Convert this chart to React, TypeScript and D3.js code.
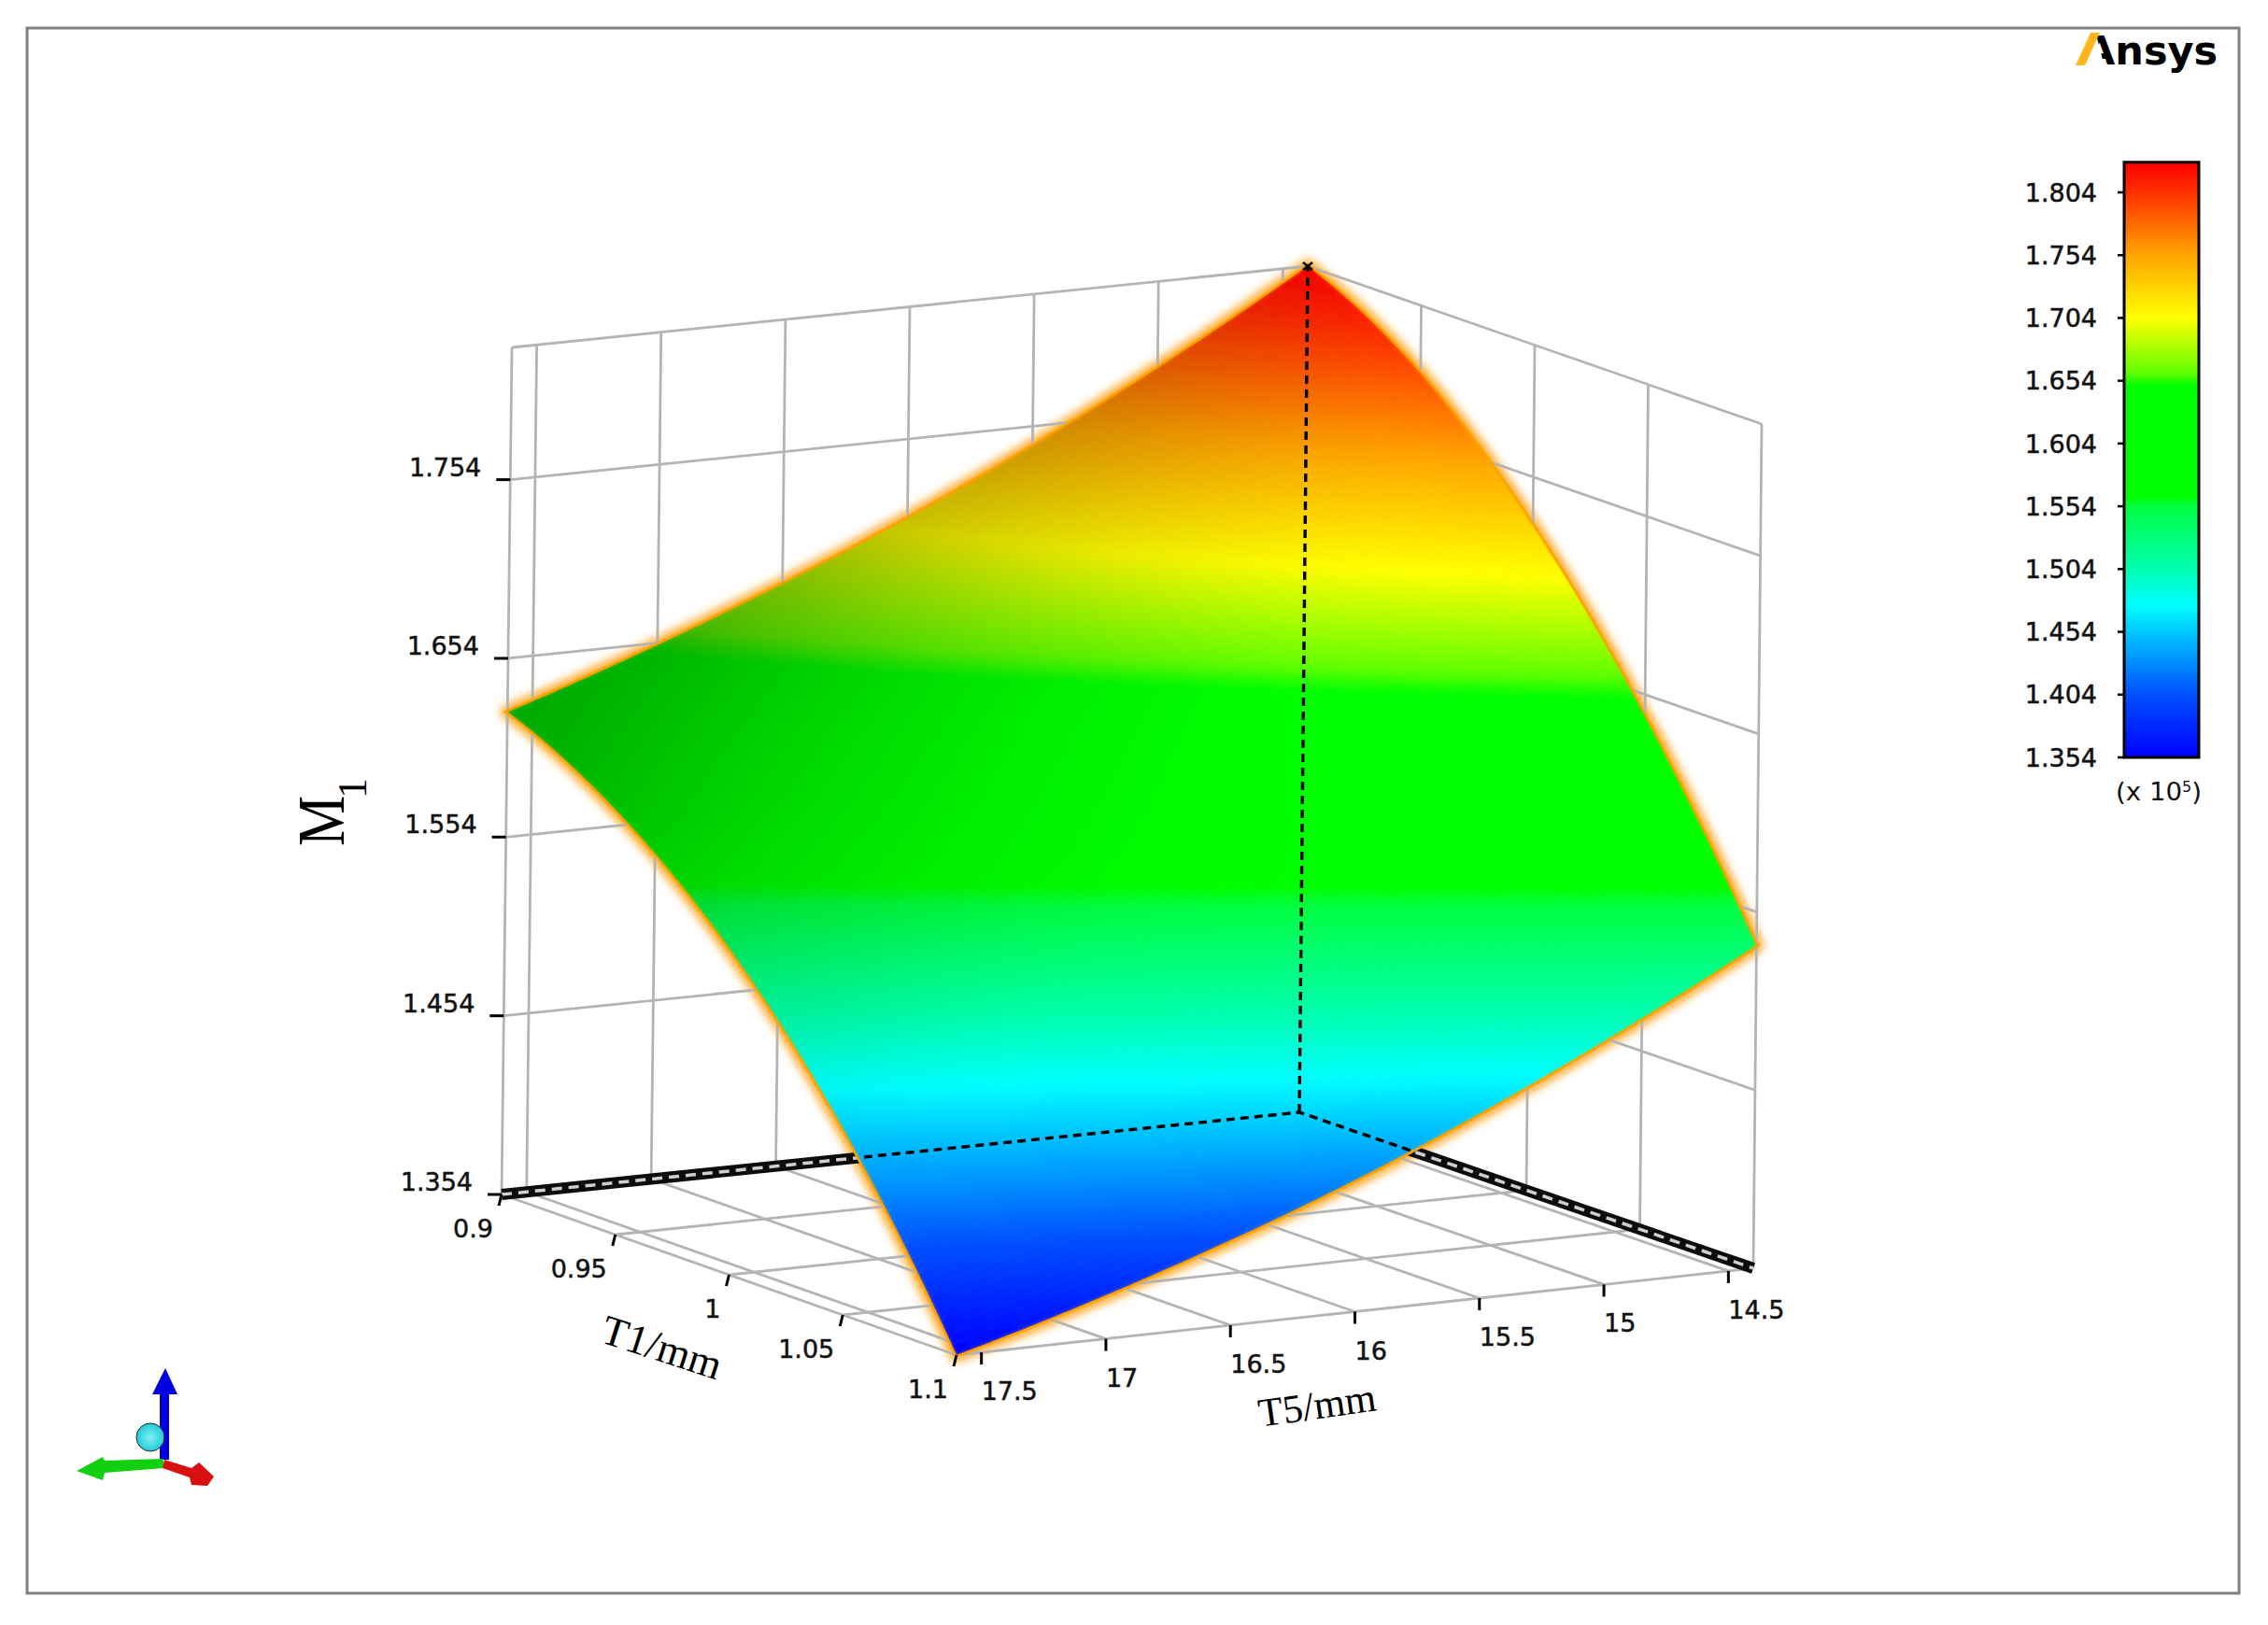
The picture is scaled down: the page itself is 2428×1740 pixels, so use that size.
import React, { useEffect, useRef } from 'react';
import * as d3 from 'd3';

const WIDTH = 2428;
const HEIGHT = 1740;

// axis values
const T1_TICKS = [0.9, 0.95, 1, 1.05, 1.1];
const T5_TICKS = [17.5, 17, 16.5, 16, 15.5, 15, 14.5];
const M_TICKS = [1.354, 1.454, 1.554, 1.654, 1.754];
const BAR_TICKS = [1.354, 1.404, 1.454, 1.504, 1.554, 1.604, 1.654, 1.704, 1.754, 1.804];

// box limits
const T1_RANGE = [0.9, 1.1];
const T5_RANGE = [17.6, 14.4];
const M_RANGE = [1.354, 1.828];

// response surface. rows: T1 0.9 -> 1.1, columns: T5 17.6 -> 14.4
const M_T1_09 = [1.624, 1.6635, 1.7096, 1.7645, 1.828];
const M_T1_095 = [1.589, 1.6276, 1.673, 1.7273, 1.79];
const M_T1_10 = [1.534, 1.5705, 1.6139, 1.666, 1.7267];
const M_T1_105 = [1.4565, 1.4911, 1.5327, 1.583, 1.642];
const M_T1_11 = [1.354, 1.3875, 1.428, 1.4775, 1.5352];
const M_SURFACE = [M_T1_09, M_T1_095, M_T1_10, M_T1_105, M_T1_11];

// lighting of the surface, same layout as M_SURFACE
const SHADE = [
  [0.66, 0.72, 0.78, 0.84, 0.95],
  [0.76, 0.84, 0.9, 0.95, 1],
  [0.9, 0.93, 0.97, 1, 1],
  [0.98, 1, 1, 1, 1],
  [1, 1, 1, 1, 1],
];

// colour map of the legend
const COLOR_VALUES = [1.354, 1.404, 1.454, 1.475, 1.504, 1.554, 1.562, 1.65, 1.66, 1.704, 1.754, 1.804, 1.828];
const COLOR_HEX = ['#0000ff', '#0050ff', '#00c8ff', '#00ffff', '#00ffb0', '#00ff40', '#00ff00', '#00ff00', '#60ff00', '#ffff00', '#ffa500', '#ff3000', '#ff0000'];

// screen position of the box corners [x, y]
const FLOOR = { left: [537, 1279], back: [1391, 1191], right: [1877, 1358], front: [1024, 1451] };
const ROOF = { left: [548, 372], back: [1400, 285], right: [1886, 454], front: [1033, 545] };

const uScale = d3.scaleLinear().domain(T1_RANGE).range([0, 1]);
const vScale = d3.scaleLinear().domain(T5_RANGE).range([0, 1]);
const wScale = d3.scaleLinear().domain(M_RANGE).range([0, 1]);
const colorScale = d3.scaleLinear<string>().domain(COLOR_VALUES).range(COLOR_HEX).clamp(true);

const bilinear = (c: typeof FLOOR, u: number, v: number) =>
  [0, 1].map(
    (i) =>
      (1 - u) * (1 - v) * c.left[i] + (1 - u) * v * c.back[i] + u * (1 - v) * c.front[i] + u * v * c.right[i]
  );

// (T1, T5, M) to screen
const project = (t1: number, t5: number, m: number): [number, number] => {
  const u = uScale(t1);
  const v = vScale(t5);
  const w = wScale(m);
  const a = bilinear(FLOOR, u, v);
  const b = bilinear(ROOF, u, v);
  return [a[0] + (b[0] - a[0]) * w, a[1] + (b[1] - a[1]) * w];
};

// Catmull-Rom through evenly spaced nodes, ends extended so the curve keeps its slope
const spline = (vals: number[], t: number) => {
  const n = vals.length;
  const pos = Math.min(Math.max(t, 0), 1) * (n - 1);
  const i = Math.min(Math.floor(pos), n - 2);
  const f = pos - i;
  const p1 = vals[i];
  const p2 = vals[i + 1];
  const p0 = i > 0 ? vals[i - 1] : 3 * vals[0] - 3 * vals[1] + vals[2];
  const p3 = i + 2 < n ? vals[i + 2] : 3 * vals[n - 1] - 3 * vals[n - 2] + vals[n - 3];
  return 0.5 * (2 * p1 + (p2 - p0) * f + (2 * p0 - 5 * p1 + 4 * p2 - p3) * f * f + (3 * p1 - p0 - 3 * p2 + p3) * f * f * f);
};

const surfaceAt = (table: number[][], u: number, v: number) => spline(table.map((r) => spline(r, v)), u);

const App: React.FC = () => {
  const svgRef = useRef<SVGSVGElement>(null);

  useEffect(() => {
    if (!svgRef.current) return;
    const svg = d3.select(svgRef.current);
    svg.selectAll('*').remove();

    const line = d3.line<[number, number]>();
    const tickFont = '"DejaVu Sans", sans-serif';
    const defs = svg.append('defs');

    // frame
    svg.append('rect').attr('width', WIDTH).attr('height', HEIGHT).attr('fill', '#fff');
    svg.append('rect').attr('x', 29).attr('y', 30).attr('width', 2368).attr('height', 1676)
      .attr('fill', 'none').attr('stroke', '#808080').attr('stroke-width', 3);

    const [t1a, t1b] = T1_RANGE;
    const [t5a, t5b] = T5_RANGE;
    const [m0, m1] = M_RANGE;

    // surface outline
    const steps = 120;
    const idx = d3.range(steps + 1).map((i) => i / steps);
    const tAt = d3.scaleLinear().domain([0, 1]);
    const surfPoint = (u: number, v: number) =>
      project(
        tAt.range(T1_RANGE)(u),
        tAt.range(T5_RANGE)(v),
        surfaceAt(M_SURFACE, u, v)
      );
    const outline: [number, number][] = [
      ...idx.map((v) => surfPoint(0, v)),
      ...idx.map((u) => surfPoint(u, 1)),
      ...idx.map((v) => surfPoint(1, 1 - v)),
      ...idx.map((u) => surfPoint(1 - u, 0)),
    ];
    const outlinePath = line(outline) + 'Z';

    const glow = defs.append('filter').attr('id', 'glow').attr('x', '-10%').attr('y', '-10%').attr('width', '120%').attr('height', '120%');
    glow.append('feGaussianBlur').attr('stdDeviation', 5);
    const soft = defs.append('filter').attr('id', 'soft').attr('x', '-2%').attr('y', '-2%').attr('width', '104%').attr('height', '104%');
    soft.append('feGaussianBlur').attr('stdDeviation', 2);
    defs.append('clipPath').attr('id', 'surface-clip').append('path').attr('d', outlinePath);

    svg.append('path').attr('d', outlinePath).attr('fill', 'none').attr('stroke', '#ffab2e')
      .attr('stroke-width', 15).attr('filter', 'url(#glow)').attr('stroke-linejoin', 'round');

    // walls and floor grid
    const grid = svg.append('g').attr('fill', 'none').attr('stroke', '#b4b4b4').attr('stroke-width', 2.8);
    const seg = (a: [number, number], b: [number, number]) => grid.append('path').attr('d', line([a, b]));

    [t5a, ...T5_TICKS, t5b].forEach((t5) => {
      seg(project(t1a, t5, m0), project(t1a, t5, m1));
      seg(project(t1a, t5, m0), project(t1b, t5, m0));
    });
    T1_TICKS.forEach((t1) => {
      seg(project(t1, t5b, m0), project(t1, t5b, m1));
      seg(project(t1, t5a, m0), project(t1, t5b, m0));
    });
    [...M_TICKS, m1].forEach((m) => {
      seg(project(t1a, t5a, m), project(t1a, t5b, m));
      seg(project(t1a, t5b, m), project(t1b, t5b, m));
    });

    // heavy floor edges behind the surface
    const backEdge: [number, number][] = [project(t1a, t5a, m0), project(t1a, t5b, m0), project(t1b, t5b, m0)];
    svg.append('path').attr('d', line(backEdge)).attr('fill', 'none').attr('stroke', '#0c0c0c').attr('stroke-width', 12);
    svg.append('path').attr('d', line(backEdge)).attr('fill', 'none').attr('stroke', '#cfcfcf')
      .attr('stroke-width', 3.5).attr('stroke-dasharray', '11 7');

    svg.append('path').attr('d', outlinePath).attr('fill', 'none').attr('stroke', '#ffa200').attr('stroke-width', 5);

    // surface mesh
    const cells: { d: string; fill: string }[] = [];
    for (let i = 0; i < steps; i++) {
      for (let j = 0; j < steps; j++) {
        const u0 = idx[i], u1 = idx[i + 1], v0 = idx[j], v1 = idx[j + 1];
        const um = (u0 + u1) / 2;
        const vm = (v0 + v1) / 2;
        const c = d3.rgb(colorScale(surfaceAt(M_SURFACE, um, vm)));
        const s = Math.min(surfaceAt(SHADE, um, vm), 1);
        const fill = d3.rgb(c.r * s, c.g * s, c.b * s).formatHex();
        cells.push({
          d: line([surfPoint(u0, v0), surfPoint(u0, v1), surfPoint(u1, v1), surfPoint(u1, v0)]) + 'Z',
          fill,
        });
      }
    }
    svg.append('g').attr('clip-path', 'url(#surface-clip)')
      .append('g').attr('filter', 'url(#soft)')
      .selectAll('path').data(cells).join('path')
      .attr('d', (d) => d.d).attr('fill', (d) => d.fill).attr('stroke', (d) => d.fill).attr('stroke-width', 2);

    // dashed box edges seen through the surface
    const dashed = svg.append('g').attr('clip-path', 'url(#surface-clip)').attr('fill', 'none')
      .attr('stroke', '#000').attr('stroke-width', 3.4).attr('stroke-dasharray', '9 6');
    dashed.append('path').attr('d', line(backEdge));
    dashed.append('path').attr('d', line([project(t1a, t5b, m0), project(t1a, t5b, m1)]));

    // ticks and labels
    const ticks = svg.append('g').attr('stroke', '#000').attr('stroke-width', 3);
    const labels = svg.append('g').attr('font-family', tickFont).attr('font-size', 27).attr('fill', '#111')
      .attr('stroke', '#111').attr('stroke-width', 0.5);

    M_TICKS.forEach((m) => {
      const [x, y] = project(t1a, t5a, m);
      ticks.append('line').attr('x1', x - 15).attr('x2', x).attr('y1', y).attr('y2', y);
      labels.append('text').attr('x', x - 31).attr('y', y - 4).attr('text-anchor', 'end').text(m.toFixed(3));
    });
    T1_TICKS.forEach((t1) => {
      const [x, y] = project(t1, t5a, m0);
      ticks.append('line').attr('x1', x).attr('y1', y).attr('x2', x - 3).attr('y2', y + 12);
      labels.append('text').attr('x', x - 9).attr('y', y + 46).attr('text-anchor', 'end').text(String(t1));
    });
    T5_TICKS.forEach((t5) => {
      const [x, y] = project(t1b, t5, m0);
      ticks.append('line').attr('x1', x).attr('y1', y).attr('x2', x).attr('y2', y + 13);
      labels.append('text').attr('x', x).attr('y', y + 51).text(String(t5));
    });
    // little cross where the box edges meet at the top
    const [topX, topY] = project(t1a, t5b, m1);
    ticks.append('path').attr('fill', 'none').attr('stroke-width', 2.5)
      .attr('d', `M${topX - 5},${topY - 4}L${topX + 5},${topY + 4}M${topX + 5},${topY - 4}L${topX - 5},${topY + 4}`);

    // axis titles
    const serif = '"Liberation Serif", serif';
    svg.append('text').attr('transform', 'translate(704,1457) rotate(18)').attr('text-anchor', 'middle')
      .attr('font-family', serif).attr('font-size', 45).attr('fill', '#000').text('T1/mm');
    svg.append('text').attr('transform', 'translate(1412,1519) rotate(-8)').attr('text-anchor', 'middle')
      .attr('font-family', serif).attr('font-size', 43).attr('fill', '#000').text('T5/mm');
    svg.append('text').attr('transform', 'translate(368,906) rotate(-90)')
      .attr('font-family', serif).attr('font-size', 71).attr('fill', '#000')
      .attr('textLength', 54).attr('lengthAdjust', 'spacingAndGlyphs').text('M');
    svg.append('text').attr('transform', 'translate(392,855) rotate(-90)')
      .attr('font-family', serif).attr('font-size', 44).attr('fill', '#000').text('1');

    // colour bar
    const barY = d3.scaleLinear().domain([1.354, 1.804]).range([811, 206]);
    const barTop = barY(M_RANGE[1]);
    const grad = defs.append('linearGradient').attr('id', 'bar-gradient').attr('x1', 0).attr('x2', 0).attr('y1', 1).attr('y2', 0);
    COLOR_VALUES.forEach((v, i) => {
      grad.append('stop').attr('offset', (v - M_RANGE[0]) / (M_RANGE[1] - M_RANGE[0])).attr('stop-color', COLOR_HEX[i]);
    });
    svg.append('rect').attr('x', 2274).attr('y', barTop).attr('width', 80).attr('height', barY(1.354) - barTop)
      .attr('fill', 'url(#bar-gradient)').attr('stroke', '#000').attr('stroke-width', 3);
    const barAxis = svg.append('g').attr('font-family', tickFont).attr('font-size', 27).attr('fill', '#111');
    BAR_TICKS.forEach((v) => {
      barAxis.append('line').attr('x1', 2267).attr('x2', 2274).attr('y1', barY(v)).attr('y2', barY(v)).attr('stroke', '#000').attr('stroke-width', 2.5);
      barAxis.append('text').attr('x', 2245).attr('y', barY(v)).attr('dy', '0.36em').attr('text-anchor', 'end')
        .attr('stroke', '#111').attr('stroke-width', 0.5).text(v.toFixed(3));
    });
    const exp = svg.append('text').attr('x', 2311).attr('y', 857).attr('text-anchor', 'middle')
      .attr('font-family', tickFont).attr('font-size', 26).attr('fill', '#111')
      .attr('textLength', 92).attr('lengthAdjust', 'spacingAndGlyphs');
    exp.append('tspan').text('(x 10');
    exp.append('tspan').attr('font-size', 15).attr('dy', -9).text('5');
    exp.append('tspan').attr('dy', 9).text(')');

    // logo
    const logo = svg.append('g');
    logo.append('text').attr('x', 2231).attr('y', 69).attr('font-family', tickFont).attr('font-weight', 'bold')
      .attr('font-size', 43).attr('fill', '#000').text('Ansys');
    logo.append('polygon').attr('points', '2224,72 2253,72 2247,48 2243,34 2230,34').attr('fill', '#fff');
    logo.append('polygon').attr('points', '2222,70 2232,70 2248,35 2238,35').attr('fill', '#ffb71b');

    // orientation triad
    const triad = svg.append('g');
    const sphere = defs.append('radialGradient').attr('id', 'sphere');
    sphere.append('stop').attr('offset', '0%').attr('stop-color', '#7ff0f4');
    sphere.append('stop').attr('offset', '100%').attr('stop-color', '#22ccd6');
    triad.append('path').attr('d', 'M171,1563 L171,1493 L163,1493 L177,1465 L190,1493 L181,1493 L181,1563 Z').attr('fill', '#0000e0');
    triad.append('path').attr('d', 'M175,1562 L112,1564 L110,1560 L82,1575 L110,1585 L112,1577 L175,1572 Z').attr('fill', '#10d010');
    triad.append('path').attr('d', 'M176,1563 L205,1572 L213,1566 L229,1581 L222,1591 L205,1590 L203,1582 L174,1572 Z').attr('fill', '#d81010');
    triad.append('circle').attr('cx', 161).attr('cy', 1539).attr('r', 15).attr('fill', 'url(#sphere)').attr('stroke', '#222').attr('stroke-width', 1);
  }, []);

  return (
    <div style={{ position: 'absolute', left: 0, top: 0 }}>
      <svg ref={svgRef} width={WIDTH} height={HEIGHT} style={{ display: 'block' }} />
    </div>
  );
};

export default App;
